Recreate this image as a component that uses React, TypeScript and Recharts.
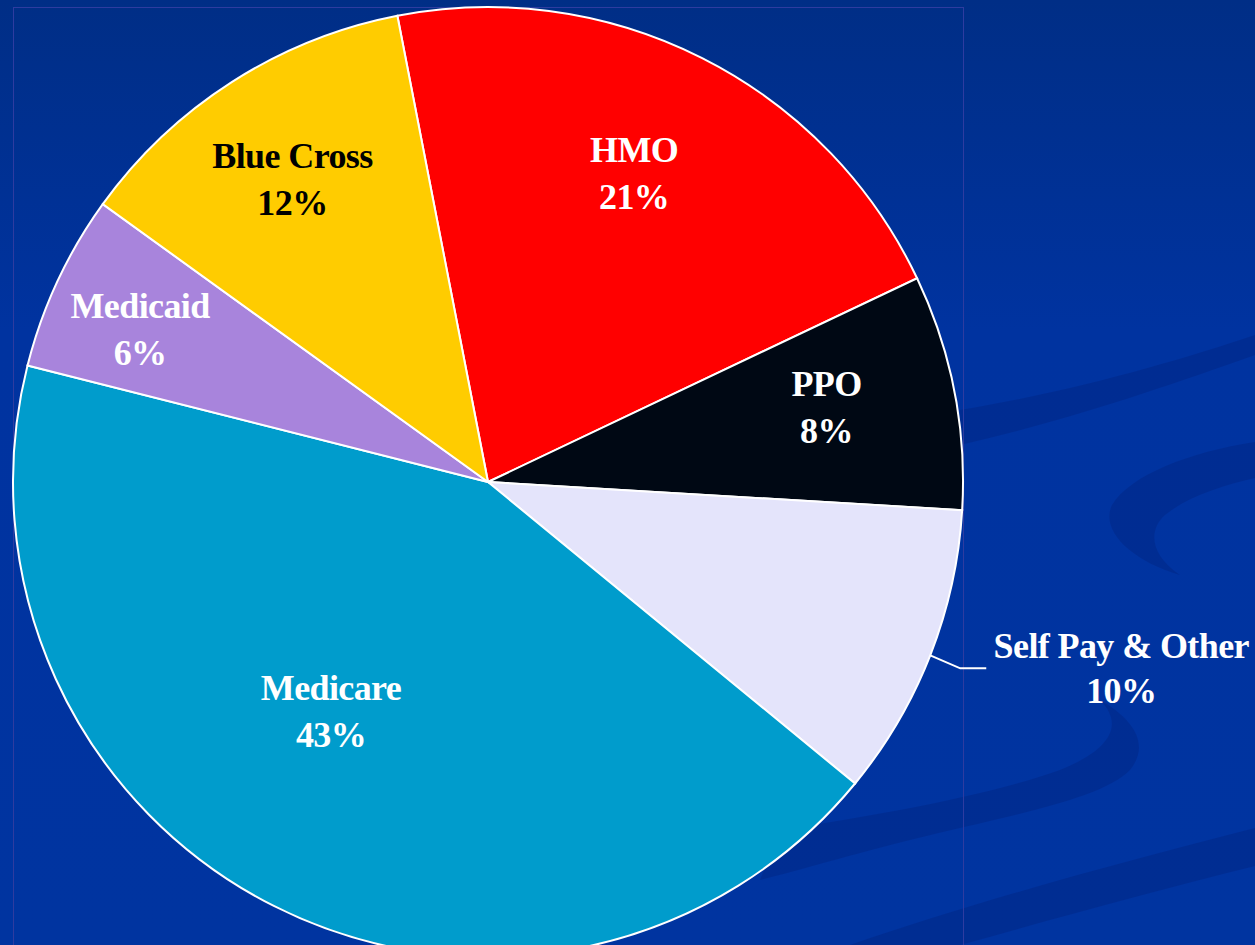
import { PieChart, Pie, Cell } from "recharts";

// payer mix, clockwise from the top
const segments = ["HMO", "PPO", "Self Pay & Other", "Medicare", "Medicaid", "Blue Cross"];
const shares = [21, 8, 10, 43, 6, 12];
const sliceColors = ["#FF0000", "#000814", "#E4E4FB", "#009CCC", "#A884DC", "#FFCC00"];

const data = segments.map((name, i) => ({ name, value: shares[i] }));

// label anchor: share of the radius, and a small turn off the slice middle (deg)
const labelSpot: Record<string, [number, number]> = {
  HMO: [0.72, 1.5],
  PPO: [0.73, 1.5],
  Medicare: [0.585, -7.6],
  Medicaid: [0.8, 1.3],
  "Blue Cross": [0.76, 0.2],
};

const RAD = Math.PI / 180;
const FONT = '"Liberation Serif", "Times New Roman", serif';

function renderLabel(props: any) {
  const { cx, cy, midAngle, outerRadius, name, value } = props;
  const textStyle = {
    fontFamily: FONT,
    fontWeight: 700,
    fontSize: 36,
    letterSpacing: -0.6,
  };
  if (name === "Self Pay & Other") {
    const sx = cx + outerRadius * Math.cos(-midAngle * RAD);
    const sy = cy + outerRadius * Math.sin(-midAngle * RAD);
    const ex = sx + 30;
    const ey = sy + 13;
    const tx = ex + 161;
    return (
      <g>
        <polyline
          points={`${sx},${sy} ${ex},${ey} ${ex + 26},${ey}`}
          fill="none"
          stroke="#ffffff"
          strokeWidth={2}
        />
        <text x={tx} y={ey - 10} textAnchor="middle" fill="#ffffff" style={textStyle}>
          {name}
        </text>
        <text x={tx} y={ey + 35} textAnchor="middle" fill="#ffffff" style={textStyle}>
          {`${value}%`}
        </text>
      </g>
    );
  }
  const [frac, turn] = labelSpot[name] ?? [0.7, 0];
  const r = outerRadius * frac;
  const a = (midAngle + turn) * RAD;
  const x = cx + r * Math.cos(-a);
  const y = cy + r * Math.sin(-a);
  const fill = name === "Blue Cross" ? "#000000" : "#ffffff";
  return (
    <g>
      <text x={x} y={y - 11} textAnchor="middle" fill={fill} style={textStyle}>
        {name}
      </text>
      <text x={x} y={y + 36} textAnchor="middle" fill={fill} style={textStyle}>
        {`${value}%`}
      </text>
    </g>
  );
}

function Backdrop() {
  const band = "rgba(0, 28, 110, 0.28)";
  return (
    <svg width={1255} height={945} style={{ position: "absolute", left: 0, top: 0 }}>
      <defs>
        <linearGradient id="bg" x1="0" y1="0" x2="0" y2="1">
          <stop offset="0%" stopColor="#002E86" />
          <stop offset="35%" stopColor="#0033A0" />
          <stop offset="100%" stopColor="#0034A0" />
        </linearGradient>
      </defs>
      <rect x={0} y={0} width={1255} height={945} fill="url(#bg)" />
      {/* dark swooshes on the right */}
      <path d="M960 410 C 1080 390, 1180 360, 1255 335 L 1255 355 C 1170 385, 1070 420, 960 445 Z" fill={band} />
      <path d="M1255 442 C 1190 452, 1130 475, 1112 505 C 1100 530, 1130 560, 1180 575 C 1150 555, 1148 530, 1165 515 C 1190 495, 1225 485, 1255 478 Z" fill={band} />
      <path d="M780 830 C 880 815, 990 795, 1060 770 C 1110 750, 1125 725, 1100 700 C 1135 720, 1150 745, 1130 770 C 1100 800, 1010 815, 910 840 C 850 855, 800 870, 760 880 Z" fill={band} />
      <path d="M850 945 C 980 900, 1130 860, 1255 828 L 1255 866 C 1150 892, 1050 920, 960 945 Z" fill={band} />
      <rect x={13.5} y={7.5} width={950} height={945} fill="none" stroke="#2E3CA0" strokeWidth={1} />
    </svg>
  );
}

export default function App() {
  return (
    <div
      style={{
        position: "absolute",
        left: 0,
        top: 0,
        width: 1255,
        height: 945,
        overflow: "hidden",
      }}
    >
      <Backdrop />
      <div style={{ position: "absolute", left: 0, top: 0 }}>
        <PieChart width={1255} height={945} margin={{ top: 0, right: 0, bottom: 0, left: 0 }}>
          <Pie
            data={data}
            dataKey="value"
            nameKey="name"
            cx={488}
            cy={482}
            outerRadius={475}
            startAngle={101}
            endAngle={-259}
            stroke="#ffffff"
            strokeWidth={2}
            label={renderLabel}
            labelLine={false}
            isAnimationActive={false}
          >
            {data.map((d, i) => (
              <Cell key={d.name} fill={sliceColors[i]} />
            ))}
          </Pie>
        </PieChart>
      </div>
    </div>
  );
}
